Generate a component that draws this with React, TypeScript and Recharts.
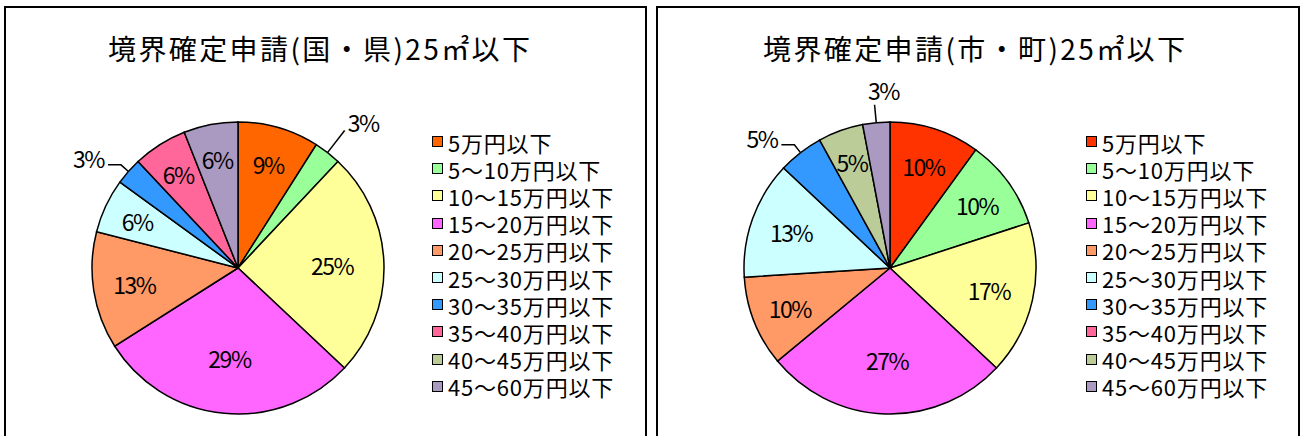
import React from 'react';
import { PieChart, Pie, Cell, Legend } from 'recharts';

const categories = [
  '5万円以下',
  '5～10万円以下',
  '10～15万円以下',
  '15～20万円以下',
  '20～25万円以下',
  '25～30万円以下',
  '30～35万円以下',
  '35～40万円以下',
  '40～45万円以下',
  '45～60万円以下',
];
const kenValues = [9, 3, 25, 29, 13, 6, 3, 6, 0, 6];
const shiValues = [10, 10, 17, 27, 10, 13, 5, 0, 5, 3];
const kenColors = ['#FF6600', '#99FF99', '#FFFF99', '#FF66FF', '#FF9966', '#CCFFFF', '#3399FF', '#FF6699', '#BBCC99', '#AA99C0'];
const shiColors = ['#FF3300', '#99FF99', '#FFFF99', '#FF66FF', '#FF9966', '#CCFFFF', '#3399FF', '#FF6699', '#BBCC99', '#AA99C0'];
const kenTitle = '境界確定申請(国・県)25㎡以下';
const shiTitle = '境界確定申請(市・町)25㎡以下';
const kenOutside = [1, 6];
const shiOutside = [6, 9];

const FONT = "'Noto Sans CJK JP', 'Noto Sans', sans-serif";
const RAD = Math.PI / 180;

function makeLabel(outside: number[]) {
  return (props: any) => {
    const { cx, cy, midAngle, outerRadius, percent, value, index } = props;
    if (!value) return null;
    const pt = (r: number) => ({
      x: cx + r * Math.cos(-midAngle * RAD),
      y: cy + r * Math.sin(-midAngle * RAD),
    });
    const text = `${value}%`;
    const tStyle = { fontFamily: FONT, fontSize: 23, letterSpacing: -1.5 } as React.CSSProperties;
    if (outside.includes(index)) {
      const p0 = pt(outerRadius);
      const cosA = Math.cos(-midAngle * RAD);
      if (Math.abs(cosA) < 0.25) {
        const p1 = pt(outerRadius + 18);
        return (
          <g key={`l${index}`}>
            <line x1={p0.x} y1={p0.y} x2={p1.x} y2={p1.y} stroke="#000" strokeWidth={1.5} />
            <text x={p1.x + 9} y={p1.y - 15} textAnchor="middle" dominantBaseline="central" fill="#000" style={tStyle}>{text}</text>
          </g>
        );
      }
      if (cosA > 0) {
        const p1 = pt(outerRadius + 28);
        return (
          <g key={`l${index}`}>
            <line x1={p0.x} y1={p0.y} x2={p1.x} y2={p1.y} stroke="#000" strokeWidth={1.5} />
            <text x={p1.x + 3} y={p1.y - 9} textAnchor="start" dominantBaseline="central" fill="#000" style={tStyle}>{text}</text>
          </g>
        );
      }
      const p1 = pt(outerRadius + 10);
      const p2x = p1.x - 13;
      return (
        <g key={`l${index}`}>
          <polyline points={`${p0.x},${p0.y} ${p1.x},${p1.y} ${p2x},${p1.y}`} fill="none" stroke="#000" strokeWidth={1.5} />
          <text x={p2x - 4} y={p1.y - 7} textAnchor="end" dominantBaseline="central" fill="#000" style={tStyle}>{text}</text>
        </g>
      );
    }
    const p = pt(outerRadius * (0.8 - 0.62 * percent));
    return (
      <text key={`l${index}`} x={p.x} y={p.y} textAnchor="middle" dominantBaseline="central" fill="#000" style={tStyle}>{text}</text>
    );
  };
}

function LegendBox({ colors }: { colors: string[] }) {
  return (
    <div style={{ fontFamily: FONT, fontSize: 22, lineHeight: '24px', color: '#000' }}>
      {categories.map((c, i) => (
        <div key={c} style={{ height: 27.2, display: 'flex', alignItems: 'center', whiteSpace: 'nowrap', overflow: 'visible' }}>
          <span style={{ display: 'inline-block', width: 11, height: 11, boxSizing: 'border-box', border: '1.5px solid #000', background: colors[i], marginRight: 5 }} />
          <span style={{ letterSpacing: 0.8, lineHeight: '24px', display: 'inline-block', height: 24 }}>{c}</span>
        </div>
      ))}
    </div>
  );
}

function Panel({ left, width, title, titleLeft, values, colors, outside, legendLeft }: any) {
  const data = categories.map((name, i) => ({ name, value: values[i] }));
  return (
    <div style={{ position: 'absolute', left, top: 6, width, height: 445, border: '2px solid #000', boxSizing: 'border-box', background: '#fff' }}>
      <div style={{ position: 'absolute', left: titleLeft, top: 22, fontFamily: FONT, fontSize: 28, lineHeight: '36px', letterSpacing: 2.4, whiteSpace: 'nowrap', color: '#000' }}>{title}</div>
      <div style={{ position: 'absolute', left: 0, top: 0 }}>
        <PieChart width={width - 4} height={430} margin={{ top: 0, right: 0, bottom: 0, left: 0 }}>
          <Pie
            data={data}
            dataKey="value"
            nameKey="name"
            cx={232}
            cy={260}
            outerRadius={146}
            startAngle={90}
            endAngle={-270}
            stroke="#000"
            strokeWidth={1.5}
            labelLine={false}
            label={makeLabel(outside)}
            isAnimationActive={false}
          >
            {data.map((d, i) => (
              <Cell key={d.name} fill={colors[i]} />
            ))}
          </Pie>
          <Legend
            layout="vertical"
            align="right"
            verticalAlign="top"
            wrapperStyle={{ left: legendLeft, top: 120, right: 'auto', width: 210 }}
            content={() => <LegendBox colors={colors} />}
          />
        </PieChart>
      </div>
    </div>
  );
}

export default function App() {
  return (
    <div style={{ position: 'absolute', left: 0, top: 0, width: 1305, height: 436, overflow: 'hidden', background: '#fff' }}>
      <Panel left={4} width={643} title={kenTitle} titleLeft={102} values={kenValues} colors={kenColors} outside={kenOutside} legendLeft={426} />
      <Panel left={656} width={644} title={shiTitle} titleLeft={105} values={shiValues} colors={shiColors} outside={shiOutside} legendLeft={428} />
    </div>
  );
}
